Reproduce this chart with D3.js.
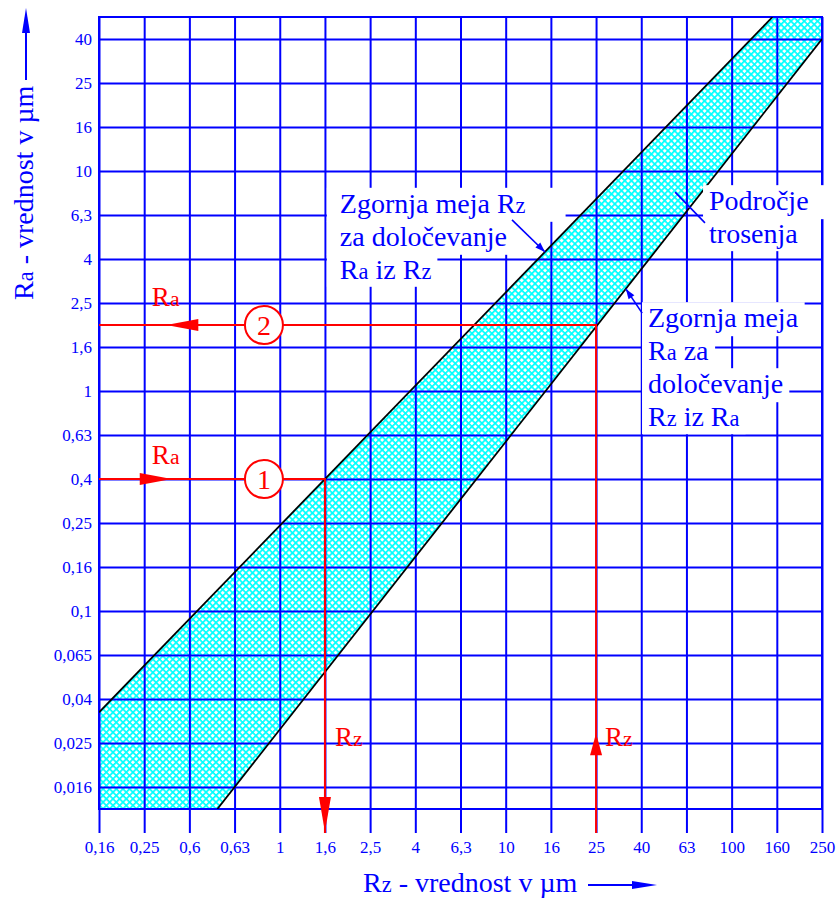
<!DOCTYPE html>
<html><head><meta charset="utf-8">
<script src="https://cdn.jsdelivr.net/npm/d3@7"></script>
<style>
body{margin:0;background:#fff}
svg{display:block}
svg text{font-family:"Liberation Serif",Tinos,"Times New Roman",Times,"DejaVu Serif",serif !important}
</style>
</head><body>
<svg id="c" width="837" height="899"></svg>
<script>
// ---- data ----
const rzTicks  = [0.16,0.25,0.4,0.63,1,1.6,2.5,4,6.3,10,16,25,40,63,100,160,250];
const rzLabels = ["0,16","0,25","0,6","0,63","1","1,6","2,5","4","6,3","10","16","25","40","63","100","160","250"];
const raTicks  = [0.016,0.025,0.04,0.063,0.1,0.16,0.25,0.4,0.63,1,1.6,2.5,4,6.3,10,16,25,40];
const raLabels = ["0,016","0,025","0,04","0,065","0,1","0,16","0,25","0,4","0,63","1","1,6","2,5","4","6,3","10","16","25","40"];
// band limits: [Rz, Ra]
const upperLimit = [[0.16,0.0347],[153,50.6]];   // Zgornja meja Rz
const lowerLimit = [[0.53,0.0128],[250,40]];     // Zgornja meja Ra
const bandBottomRa = 0.0128, bandTopRa = 50.6;
// examples
const example1 = {rz:1.6, ra:0.4, num:"1"};
const example2 = {rz:25, ra:2.0, num:"2"};

// ---- layout ----
const L=99,R=822,T=17,B=809, TICK=24;
const BLUE="#0000ff", RED="#ff0000", CYAN="#00ffff";
const FONT='"Liberation Serif",Tinos,"Times New Roman",Times,"DejaVu Serif",serif';
const svg=d3.select("#c");
const xi=d3.scaleLinear().domain([0,rzTicks.length-1]).range([L,R]);
const yj=d3.scaleLinear().domain([-0.5,raTicks.length-0.5]).range([B,T]);
const X=d3.scaleLinear().domain(rzTicks.map(Math.log)).range(rzTicks.map((d,i)=>xi(i)));
const Y=d3.scaleLinear().domain(raTicks.map(Math.log)).range(raTicks.map((d,i)=>yj(i)));
const px=v=>X(Math.log(v)), py=v=>Y(Math.log(v));

const defs=svg.append("defs");
const pat=defs.append("pattern").attr("id","hatch").attr("patternUnits","userSpaceOnUse")
  .attr("width",4.7).attr("height",4.7).attr("patternTransform","rotate(45)");
pat.append("rect").attr("width",4.7).attr("height",4.7).attr("fill","#fff");
pat.append("rect").attr("width",4.7).attr("height",1.7).attr("fill",CYAN);
pat.append("rect").attr("width",1.7).attr("height",4.7).attr("fill",CYAN);
defs.append("clipPath").attr("id","plot").append("rect")
  .attr("x",L).attr("y",T).attr("width",R-L).attr("height",B-T);

// band
const bandPts=[[rzTicks[0],bandBottomRa],upperLimit[0],upperLimit[1],[rzTicks[rzTicks.length-1],bandTopRa],
  lowerLimit[1],lowerLimit[0]];
svg.append("path").attr("clip-path","url(#plot)")
  .attr("d",d3.line().x(d=>px(d[0])).y(d=>py(d[1]))(bandPts)+"Z")
  .attr("fill","url(#hatch)");

// grid / axes
const gx=svg.append("g").attr("transform",`translate(0,${B+TICK})`)
  .call(d3.axisBottom(X).tickValues(rzTicks.map(Math.log)).tickFormat((d,i)=>rzLabels[i])
    .tickSizeInner(-(B+TICK-T)).tickSizeOuter(0).tickPadding(8));
const gy=svg.append("g").attr("transform",`translate(${L},0)`)
  .call(d3.axisLeft(Y).tickValues(raTicks.map(Math.log)).tickFormat((d,i)=>raLabels[i])
    .tickSizeInner(-(R-L)).tickSizeOuter(0).tickPadding(7));
[gx,gy].forEach(g=>{
  g.attr("font-family",FONT);
  g.select(".domain").remove();
  g.selectAll(".tick line").attr("stroke",BLUE).attr("stroke-width",2);
  g.selectAll(".tick text").attr("fill",BLUE).attr("font-size",17).attr("font-family",FONT);
});
svg.append("rect").attr("x",L).attr("y",T).attr("width",R-L).attr("height",B-T)
  .attr("fill","none").attr("stroke",BLUE).attr("stroke-width",2);

// black limit lines
[upperLimit,lowerLimit].forEach(l=>{
  svg.append("path").attr("clip-path","url(#plot)")
    .attr("d",d3.line().x(d=>px(d[0])).y(d=>py(d[1]))(l))
    .attr("stroke","#000").attr("stroke-width",1.8).attr("fill","none");
});

// helpers
function head(g,tx,ty,dir,len,hw,color){
  const [dx,dy]=dir, bx=tx-dx*len, by=ty-dy*len, nx=-dy, ny=dx;
  g.append("path").attr("d",`M${tx},${ty}L${bx+nx*hw},${by+ny*hw}L${bx-nx*hw},${by-ny*hw}Z`).attr("fill",color);
}
function rich(g,x,y,parts,size,color){
  const t=g.append("text").attr("x",x).attr("y",y).attr("font-size",size).attr("fill",color).attr("font-family",FONT);
  parts.forEach(p=>t.append("tspan").attr("font-size",p[1]?size*0.8:size).text(p[0]));
  return t;
}

// red examples
const red=svg.append("g");
const x1=px(example1.rz), y1=py(example1.ra), x2=px(example2.rz), y2=py(example2.ra);
red.append("path").attr("d",`M${L},${y1}H${x1}V${B+TICK}`).attr("fill","none").attr("stroke",RED).attr("stroke-width",2);
red.append("path").attr("d",`M${x2},${B+TICK}V${y2}H${L}`).attr("fill","none").attr("stroke",RED).attr("stroke-width",2);
head(red,xi(1.61),y1,[1,0],32,6,RED);
head(red,x1,B+TICK-1,[0,1],35,6,RED);
head(red,xi(1.49),y2,[-1,0],32,6,RED);
head(red,x2,yj(1.22),[0,-1],22,6,RED);
[[example1,y1],[example2,y2]].forEach(([e,yy])=>{
  red.append("circle").attr("cx",xi(3.65)).attr("cy",yy).attr("r",19).attr("fill","#fff").attr("stroke",RED).attr("stroke-width",2);
  red.append("text").attr("x",xi(3.65)).attr("y",yy+9.5).attr("text-anchor","middle").attr("font-size",28).attr("fill",RED).attr("font-family",FONT).text(e.num);
});
rich(red,xi(1.17),y1-15,[["R",0],["a",1]],27,RED);
rich(red,xi(1.17),y2-19,[["R",0],["a",1]],27,RED);
rich(red,x1+10,yj(0.93),[["R",0],["z",1]],27,RED);
rich(red,x2+9,yj(0.93),[["R",0],["z",1]],27,RED);

// annotations (per-line white boxes)
const notes=[
  {i:5.33,j:13.05,pads:[[13,40],[13,6],[13,6]],lines:[[["Zgornja meja R",0],["z",1]],[["za določevanje",0]],[["R",0],["a",1],[" iz R",0],["z",1]]]},
  {i:13.5,j:13.11,pads:[[6,16],[6,16]],lines:[[["Področje",0]],[["trosenja",0]]]},
  {i:12.15,j:10.45,pads:[[6,6],[6,6],[6,6],[6,6]],lines:[[["Zgornja meja",0]],[["R",0],["a",1],[" za",0]],[["določevanje",0]],[["R",0],["z",1],[" iz R",0],["a",1]]]}
];
const LH=33;
notes.forEach(n=>{
  const g=svg.append("g");
  const bgs=n.lines.map(()=>g.append("rect").attr("fill","#fff"));
  const y0=yj(n.j);
  const ts=n.lines.map((ln,k)=>rich(g,xi(n.i),y0+k*LH,ln,28,BLUE));
  ts.forEach((t,k)=>{
    const b=t.node().getBBox();
    bgs[k].attr("x",b.x-n.pads[k][0]).attr("width",b.width+n.pads[k][0]+n.pads[k][1])
      .attr("y",y0+k*LH-25).attr("height",LH+(k==n.lines.length-1?0:1));
  });
});
// pointers [fromI,fromJ,toI,toJ,arrow]
const pointers=[[9.14,12.89,9.87,12.16,true],[13.41,12.82,12.75,13.52,false],[12.02,10.77,11.66,11.32,true]];
pointers.forEach(p=>{
  const ax=xi(p[0]),ay=yj(p[1]),bx=xi(p[2]),by=yj(p[3]);
  svg.append("line").attr("x1",ax).attr("y1",ay).attr("x2",bx).attr("y2",by).attr("stroke",BLUE).attr("stroke-width",1.6);
  if(p[4]){const d=Math.hypot(bx-ax,by-ay);head(svg,bx,by,[(bx-ax)/d,(by-ay)/d],10,3.5,BLUE);}
});

// axis titles
const yt=svg.append("g");
rich(yt,0,0,[["R",0],["a",1],[" - vrednost v µm",0]],28,BLUE).attr("transform","translate(33,300) rotate(-90)");
yt.append("line").attr("x1",26).attr("y1",80).attr("x2",26).attr("y2",20).attr("stroke",BLUE).attr("stroke-width",2);
head(yt,26,8,[0,-1],25,4,BLUE);
const xt=svg.append("g");
rich(xt,363,892,[["R",0],["z",1],[" - vrednost v µm",0]],28,BLUE);
xt.append("line").attr("x1",588).attr("y1",885).attr("x2",645).attr("y2",885).attr("stroke",BLUE).attr("stroke-width",2);
head(xt,657,885,[1,0],25,4,BLUE);
</script>
</body></html>
